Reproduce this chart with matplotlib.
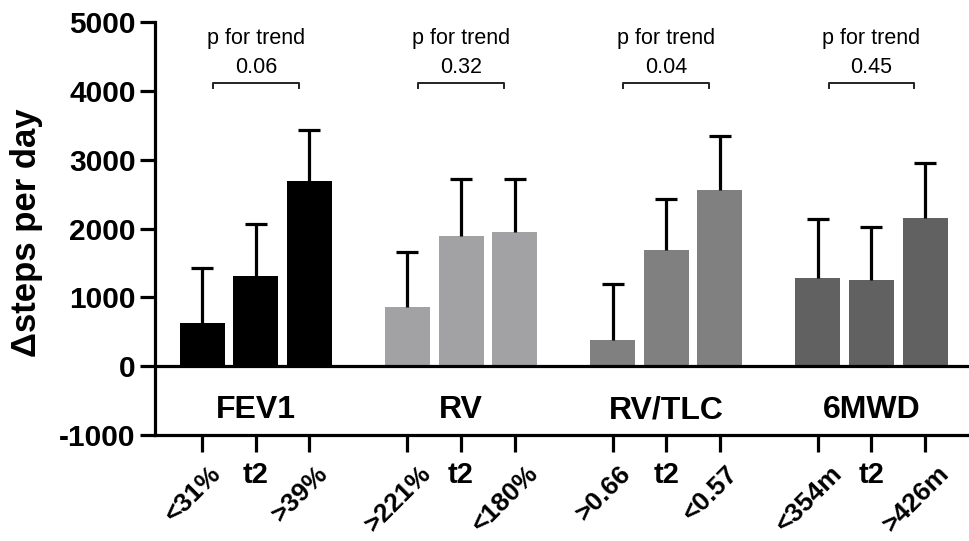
import numpy as np
import matplotlib
matplotlib.use("Agg")
import matplotlib.pyplot as plt
import matplotlib.transforms as mtransforms

plt.rcParams['font.family'] = ['Liberation Sans', 'DejaVu Sans']
plt.rcParams['axes.unicode_minus'] = False

groups = ['FEV1', 'RV', 'RV/TLC', '6MWD']
tick_labels = ['<31%', 't2', '>39%',
               '>221%', 't2', '<180%',
               '>0.66', 't2', '<0.57',
               '<354m', 't2', '>426m']
means = [[625, 1310, 2690],
         [860, 1895, 1950],
         [385, 1690, 2565],
         [1285, 1255, 2150]]
sd_upper = [[800, 755, 740],
            [800, 820, 775],
            [805, 740, 785],
            [860, 775, 805]]
p_trend = ['0.06', '0.32', '0.04', '0.45']
colors = ['#000000', '#a2a2a5', '#808080', '#616161']

GROUP_STEP = 3.83
BAR_W = 0.84

fig = plt.figure(figsize=(9.69, 5.41), dpi=100)
ax = fig.add_axes([0.16, 0.196, 0.84, 0.763])

xs_all = []
for g in range(len(groups)):
    xs = g * GROUP_STEP + np.arange(3)
    xs_all.extend(xs)
    vals = np.array(means[g])
    err = np.array(sd_upper[g])
    ax.bar(xs, vals, width=BAR_W, color=colors[g], zorder=2)
    ax.errorbar(xs, vals, yerr=[np.zeros(3), err], fmt='none', ecolor='black',
                elinewidth=2.3, capsize=0, zorder=3)
    ax.plot(xs, vals + err, ls='none', marker='_', ms=16, mew=2.3,
            color='black', zorder=3)

    # p for trend bracket
    yb = 4120
    x1, x3 = xs[0] + 0.2, xs[2] - 0.2
    ax.plot([x1, x1, x3, x3], [yb - 80, yb, yb, yb - 80], color='#222222',
            lw=1.4, zorder=3)
    xc = xs[1]
    ax.text(xc, 4760, 'p for trend', ha='center', va='center', fontsize=15.5)
    ax.text(xc, 4340, p_trend[g], ha='center', va='center', fontsize=15.5)
    ax.text(xc, -640, groups[g], ha='center', va='center', fontsize=23,
            fontweight='bold')

ax.axhline(0, color='black', lw=2.3, zorder=4)

ax.set_xlim(-0.88, 14.31)
ax.set_ylim(-1000, 5000)
ax.set_yticks(np.arange(-1000, 5001, 1000))
ax.set_xticks(xs_all)
ax.set_xticklabels(tick_labels)

for spine in ['top', 'right']:
    ax.spines[spine].set_visible(False)
for spine in ['left', 'bottom']:
    ax.spines[spine].set_linewidth(2.3)

ax.tick_params(axis='y', length=11, width=2.3, labelsize=21.5, pad=3)
ax.tick_params(axis='x', length=12, width=2.3, labelsize=21, pad=7)
for lab in ax.get_yticklabels():
    lab.set_fontweight('bold')

offset = mtransforms.ScaledTranslation(-9 / 100, 0, fig.dpi_scale_trans)
for lab in ax.get_xticklabels():
    lab.set_fontweight('bold')
    if lab.get_text() != 't2':
        lab.set_rotation(45)
        lab.set_fontsize(19)
        lab.set_ha('center')
        lab.set_va('top')
        lab.set_transform(lab.get_transform() + offset)

ax.set_ylabel('\u0394steps per day', fontsize=25, fontweight='bold')
ax.yaxis.set_label_coords(-0.138, 0.49)

fig.savefig('out.png', dpi=100)
